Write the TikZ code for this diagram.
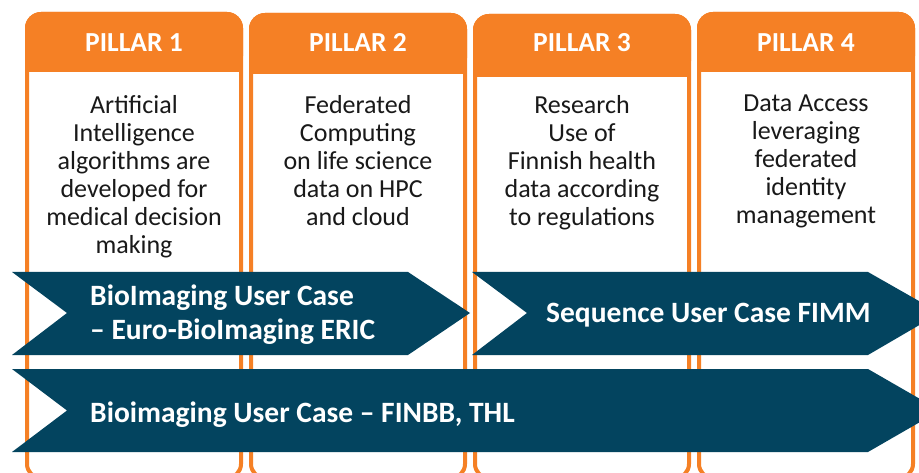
\documentclass[tikz,border=0pt]{standalone}
\usepackage{fontspec}
\setmainfont{Carlito}
\usepackage{tikz}

\definecolor{pillarorange}{HTML}{F58025}
\definecolor{banddark}{HTML}{03445F}

\begin{document}
\begin{tikzpicture}[
  x=1pt, y=-1pt,
  frame/.style={draw=pillarorange, line width=4pt, fill=white, rounded corners=14pt},
  head/.style={fill=pillarorange},
  headtext/.style={text=white, anchor=base, inner sep=0pt,
    font=\bfseries\fontsize{27.5}{30}\selectfont},
  bodytext/.style={text=black!90, anchor=north, align=center, inner sep=0pt,
    font=\fontsize{26}{28}\selectfont},
  band/.style={fill=banddark},
  bandtext/.style={text=white, anchor=base west, align=left, inner sep=0pt,
    font=\bfseries\fontsize{29.5}{35}\selectfont}
]
\useasboundingbox (0,0) rectangle (919,473);
\clip (0,0) rectangle (919,473);

% pillar 1
\draw[frame] (27,14) rectangle (241,478);
\fill[head, rounded corners=16pt] (25,12) rectangle (243,72);
\fill[head] (25,50) rectangle (243,72);
\node[headtext] (h1) at (134,52) {PILLAR 1};
\node[bodytext] (b1) at (134,95)
  {Artificial\\Intelligence\\algorithms are\\developed for\\medical decision\\making};

% pillar 2
\draw[frame] (251,15) rectangle (465,478);
\fill[head, rounded corners=16pt] (249,13) rectangle (467,74);
\fill[head] (249,52) rectangle (467,74);
\node[headtext] (h2) at (358,52) {PILLAR 2};
\node[bodytext] (b2) at (358,95)
  {Federated\\Computing\\on life science\\data on HPC\\and cloud};

% pillar 3
\draw[frame] (475,16) rectangle (689,478);
\fill[head, rounded corners=16pt] (473,14) rectangle (691,77);
\fill[head] (473,55) rectangle (691,77);
\node[headtext] (h3) at (582,52) {PILLAR 3};
\node[bodytext] (b3) at (582,95)
  {Research\\Use of\\Finnish health\\data according\\to regulations};

% pillar 4
\draw[frame] (699,14) rectangle (913,478);
\fill[head, rounded corners=16pt] (697,12) rectangle (915,72);
\fill[head] (697,50) rectangle (915,72);
\node[headtext] (h4) at (806,52) {PILLAR 4};
\node[bodytext] (b4) at (806,95)
  {Data Access\\leveraging\\federated\\identity\\management};

% user case bands
\fill[band] (12,272) -- (408,272) -- (470,313) -- (408,355) -- (12,355) -- (67,313) -- cycle;
\node[bandtext] (u1) at (90,340) {BioImaging User Case\\– Euro-BioImaging ERIC};

\fill[band] (472,272) -- (868,272) -- (940,313) -- (868,355) -- (472,355) -- (527,313) -- cycle;
\node[bandtext] (u2) at (546,323) {Sequence User Case FIMM};

\fill[band] (12,369) -- (868,369) -- (940,410.5) -- (868,452) -- (12,452) -- (67,410.5) -- cycle;
\node[bandtext] (u3) at (90,422) {Bioimaging User Case – FINBB, THL};

\end{tikzpicture}
\end{document}
